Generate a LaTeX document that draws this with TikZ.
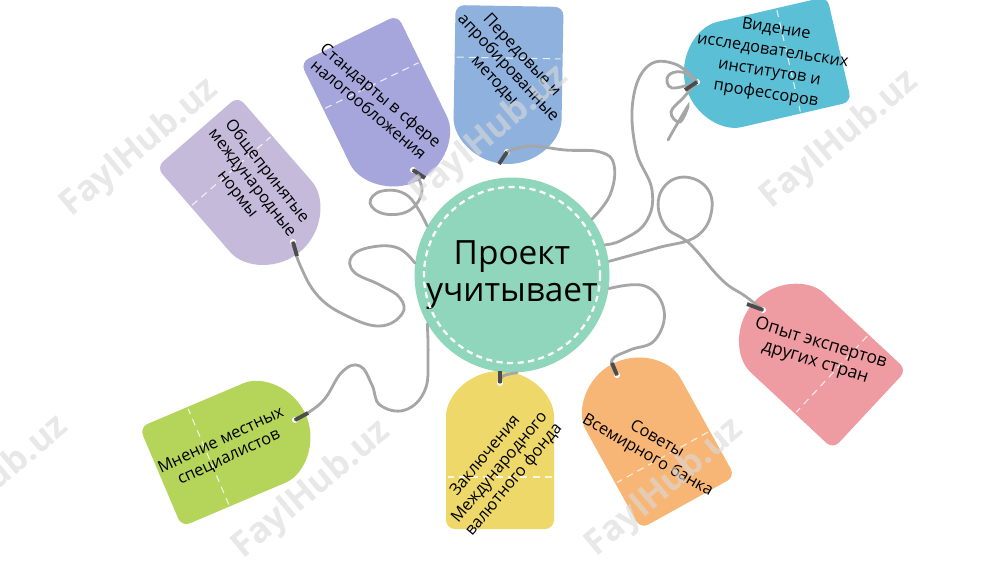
\documentclass[tikz,border=0pt]{standalone}
\usepackage{fontspec}
\setmainfont{Open Sans}
\usetikzlibrary{positioning,calc}

\definecolor{hubmint}{HTML}{8FD6BC}
\definecolor{tglav}{HTML}{C6BADB}
\definecolor{tgperi}{HTML}{A6A6DC}
\definecolor{tgblue}{HTML}{8EB1DD}
\definecolor{tgcyan}{HTML}{5BBFD6}
\definecolor{tgpink}{HTML}{EE9BA2}
\definecolor{tgorange}{HTML}{F7B676}
\definecolor{tgyellow}{HTML}{EED86A}
\definecolor{tggreen}{HTML}{B5D45A}

\tikzset{
  hub/.style={circle, fill=hubmint, minimum size=39mm, inner sep=0pt, align=center,
    font=\fontsize{19}{21}\selectfont},
  hubdash/.style={white, line width=1.3pt, dash pattern=on 3.5pt off 2.5pt},
  tagtext/.style={align=center, inner sep=0pt, font=\fontsize{9.3}{10.6}\selectfont},
  foldline/.style={white, line width=0.6pt, dash pattern=on 4pt off 3pt, opacity=0.8},
  strng/.style={draw=gray!70, line width=1.6pt, line cap=round},
  hookmark/.style={draw=gray!60!black, line width=2.2pt},
  wmark/.style={text=gray!30, opacity=0.6, rotate=40, font=\bfseries\fontsize{20}{20}\selectfont}
}

% one paper tag: hole, direction of the flat end, colour
\newcommand{\tagbody}[3]{%
  \begin{scope}[shift={(#1)}, rotate=#2]
    \fill[#3, rounded corners=5pt] (146,-54) -- (146,54) -- (42,54)
      arc[start angle=90, end angle=270, radius=54] -- cycle;
    \draw[foldline] (94,-52) -- (94,52);
    \fill[white] (0,0) circle (3);
  \end{scope}}

\begin{document}
\begin{tikzpicture}[x=0.2mm, y=-0.2mm]
  \useasboundingbox (0,0) rectangle (1000,562);

  % holes of the tags
  \coordinate (h1) at (293,242);
  \coordinate (h2) at (413,170);
  \coordinate (h3) at (507,152);
  \coordinate (h4) at (697,82);
  \coordinate (h5) at (763,310);
  \coordinate (h6) at (617,375);
  \coordinate (h7) at (500,383);
  \coordinate (h8) at (295,420);

  \tagbody{h1}{131}{tglav}
  \tagbody{h2}{116}{tgperi}
  \tagbody{h3}{89}{tgblue}
  \tagbody{h4}{13}{tgcyan}
  \tagbody{h5}{-43}{tgpink}
  \tagbody{h6}{-61}{tgorange}
  \tagbody{h7}{-90}{tgyellow}
  \tagbody{h8}{203}{tggreen}

  \node[tagtext, rotate=-52] (t1) at (252,183) {Общепринятые\\международные\\нормы};
  \node[tagtext, rotate=-40] (t2) at (375,102) {Стандарты в сфере\\налогообложения};
  \node[tagtext, rotate=-47] (t3) at (508,68) {Передовые и\\апробированные\\методы};
  \node[tagtext, rotate=-9, font=\fontsize{9.3}{12.4}\selectfont] (t4) at (771,62)
    {Видение\\исследовательских\\институтов и\\профессоров};
  \node[tagtext, rotate=-17, font=\fontsize{10}{11}\selectfont] (t5) at (818,353) {Опыт экспертов\\других стран};
  \node[tagtext, rotate=-30] (t6) at (652,448) {Советы\\Всемирного банка};
  \node[tagtext, rotate=50]  (t7) at (500,468) {Заключения\\Международного\\валютного фонда};
  \node[tagtext, rotate=25]  (t8) at (225,449) {Мнение местных\\специалистов};

  \node[hub] (c) at (512,275) {Проект\\учитывает};
  \draw[hubdash] (c.center) circle (88);

  % strings
  \draw[strng] plot[smooth, tension=0.7] coordinates {(h1) (300,265) (318,296) (347,316)
    (380,326) (402,314) (400,298) (380,285) (354,272) (352,256) (372,247) (398,248) (c.173)};
  \draw[strng] plot[smooth, tension=0.7] coordinates {(h2) (422,190) (410,210) (385,214)
    (370,203) (382,191) (408,196) (c.150)};
  \draw[strng] plot[smooth, tension=0.7] coordinates {(h3) (530,146) (565,150) (600,152)
    (614,165) (610,195) (c.35)};
  \draw[strng] plot[smooth, tension=0.7] coordinates {(h4) (675,64) (648,66) (633,100)
    (636,150) (652,190) (646,222) (622,240) (c.18)};
  \draw[strng] plot[smooth, tension=0.7] coordinates {(h4) (682,72) (668,76) (672,88) (h4)};
  \draw[strng] plot[smooth, tension=0.7] coordinates {(h4) (684,97) (671,112) (680,122)
    (688,106) (676,126) (668,140)};
  \draw[strng] plot[smooth, tension=0.7] coordinates {(h5) (745,296) (722,280) (690,244)
    (665,226) (659,197) (677,178) (703,184) (712,208) (697,236) (657,248) (c.8)};
  \draw[strng] plot[smooth, tension=0.7] coordinates {(c.-8) (645,286) (664,310) (655,340)
    (630,350) (612,360) (h6)};
  \draw[strng] plot[smooth, tension=0.7] coordinates {(h7) (503,376) (c.-87)};
  \draw[strng] plot[smooth, tension=0.7] coordinates {(h8) (322,402) (342,372) (360,366)
    (372,385) (380,405) (405,410) (425,390) (428,355) (c.-150)};

  % clips at the holes
  \draw[hookmark] (h1) -- +(4,14);
  \draw[hookmark] (h2) -- +(12,8);
  \draw[hookmark] (h3) -- +(-8,12);
  \draw[hookmark] (h4) -- +(-12,8);
  \draw[hookmark] (h5) -- +(-16,-6);
  \draw[hookmark] (h6) -- +(-5,-12);
  \draw[hookmark] (h7) -- +(0,-12);
  \draw[hookmark] (h8) -- +(13,-7);

  % watermark
  \node[wmark] (w1) at (140,148) {FaylHub.uz};
  \node[wmark] (w2) at (490,135) {FaylHub.uz};
  \node[wmark] (w3) at (840,140) {FaylHub.uz};
  \node[wmark] (w4) at (-10,485) {FaylHub.uz};
  \node[wmark] (w5) at (312,490) {FaylHub.uz};
  \node[wmark] (w6) at (665,488) {FaylHub.uz};
\end{tikzpicture}
\end{document}
